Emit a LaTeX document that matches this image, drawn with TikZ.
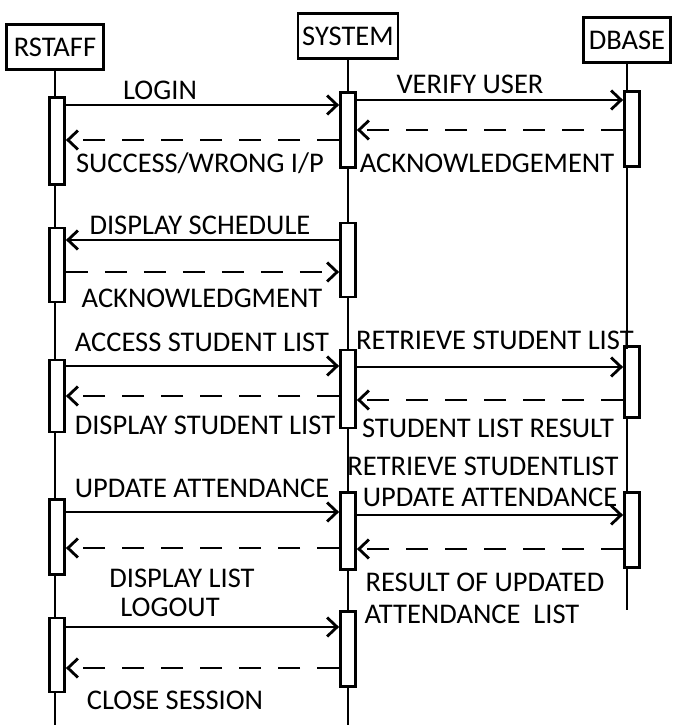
\documentclass[tikz,border=0pt]{standalone}
\usepackage{fontspec}
\setmainfont{Carlito}
\usetikzlibrary{arrows.meta}

\begin{document}
\begin{tikzpicture}[
  x=1pt, y=-1pt, line width=2.8pt,
  font=\fontsize{28.5}{30}\selectfont,
  hdr/.style={draw,rectangle,minimum height=45pt,inner sep=0pt},
  act/.style={draw,fill=white,rectangle,minimum width=15pt,inner sep=0pt},
  msg/.style={-{Straight Barb[length=10pt,width=19pt]}},
  ret/.style={msg,dash pattern=on 22pt off 17pt},
  lbl/.style={inner sep=0pt,anchor=base}
]
\useasboundingbox (0,0) rectangle (686,725);

% Objects
\node[hdr,minimum width=97pt] (rstaff) at (55,47) {RSTAFF};
\node[hdr,minimum width=100pt] (system) at (348,36) {SYSTEM};
\node[hdr,minimum width=87pt] (dbase) at (627,40) {DBASE};

% Lifelines
\draw (rstaff.south) -- (rstaff.south |- 0,725);
\draw (system.south) -- (system.south |- 0,725);
\draw (dbase.south) -- (dbase.south |- 0,610);

% Activations
\node[act,minimum height=87pt] (ra1) at (57,141) {};
\node[act,minimum height=74pt] (ra2) at (57,265) {};
\node[act,minimum height=72pt] (ra3) at (57,396) {};
\node[act,minimum height=75pt] (ra4) at (57,537) {};
\node[act,minimum height=74pt] (ra5) at (57,655) {};

\node[act,minimum height=75pt] (sa1) at (348,130) {};
\node[act,minimum height=74pt] (sa2) at (348,260) {};
\node[act,minimum height=78pt] (sa3) at (348,389) {};
\node[act,minimum height=77pt] (sa4) at (348,531) {};
\node[act,minimum height=75pt] (sa5) at (348,649) {};

\node[act,minimum height=75pt] (da1) at (632,129) {};
\node[act,minimum height=71pt] (da2) at (632,382) {};
\node[act,minimum height=75pt] (da3) at (632,530) {};

% Login
\draw[msg] (ra1.east |- 0,105) -- (sa1.west |- 0,105);
\node[lbl] (login) at (160,99) {LOGIN};
\draw[msg] (sa1.east |- 0,100) -- (da1.west |- 0,100);
\node[lbl] (verify) at (470,93) {VERIFY USER};
\draw[ret] (da1.west |- 0,130) -- (sa1.east |- 0,130);
\node[lbl] (ack1) at (487,172) {ACKNOWLEDGEMENT};
\draw[ret] (sa1.west |- 0,140) -- (ra1.east |- 0,140);
\node[lbl] (success) at (200,172) {SUCCESS/WRONG I/P};

% Schedule
\draw[msg] (sa2.west |- 0,240) -- (ra2.east |- 0,240);
\node[lbl] (sched) at (200,234) {DISPLAY SCHEDULE};
\draw[ret] (ra2.east |- 0,272) -- (sa2.west |- 0,272);
\node[lbl] (ack2) at (202,307) {ACKNOWLEDGMENT};

% Student list
\draw[msg] (ra3.east |- 0,366) -- (sa3.west |- 0,366);
\node[lbl] (access) at (202,351) {ACCESS STUDENT LIST};
\draw[msg] (sa3.east |- 0,367) -- (da2.west |- 0,367);
\node[lbl] (retr) at (495,349) {RETRIEVE STUDENT LIST};
\draw[ret] (da2.west |- 0,400) -- (sa3.east |- 0,400);
\node[lbl] (result) at (488,437) {STUDENT LIST RESULT};
\draw[ret] (sa3.west |- 0,396) -- (ra3.east |- 0,396);
\node[lbl] (dispst) at (205,434) {DISPLAY STUDENT LIST};

% Attendance
\draw[msg] (ra4.east |- 0,512) -- (sa4.west |- 0,512);
\node[lbl] (upd) at (202,497) {UPDATE ATTENDANCE};
\draw[msg] (sa4.east |- 0,515) -- (da3.west |- 0,515);
\node[lbl] (retr2) at (483,475) {RETRIEVE STUDENTLIST};
\node[lbl] (upd2) at (490,506) {UPDATE ATTENDANCE};
\draw[ret] (da3.west |- 0,549) -- (sa4.east |- 0,549);
\node[lbl] (resupd) at (485,591) {RESULT OF UPDATED};
\node[lbl] (attl) at (472,623) {ATTENDANCE\ \ LIST};
\draw[ret] (sa4.west |- 0,548) -- (ra4.east |- 0,548);
\node[lbl] (displ) at (182,587) {DISPLAY LIST};

% Logout
\draw[msg] (ra5.east |- 0,627) -- (sa5.west |- 0,627);
\node[lbl] (logout) at (170,616) {LOGOUT};
\draw[ret] (sa5.west |- 0,668) -- (ra5.east |- 0,668);
\node[lbl] (close) at (175,709) {CLOSE SESSION};
\end{tikzpicture}
\end{document}
